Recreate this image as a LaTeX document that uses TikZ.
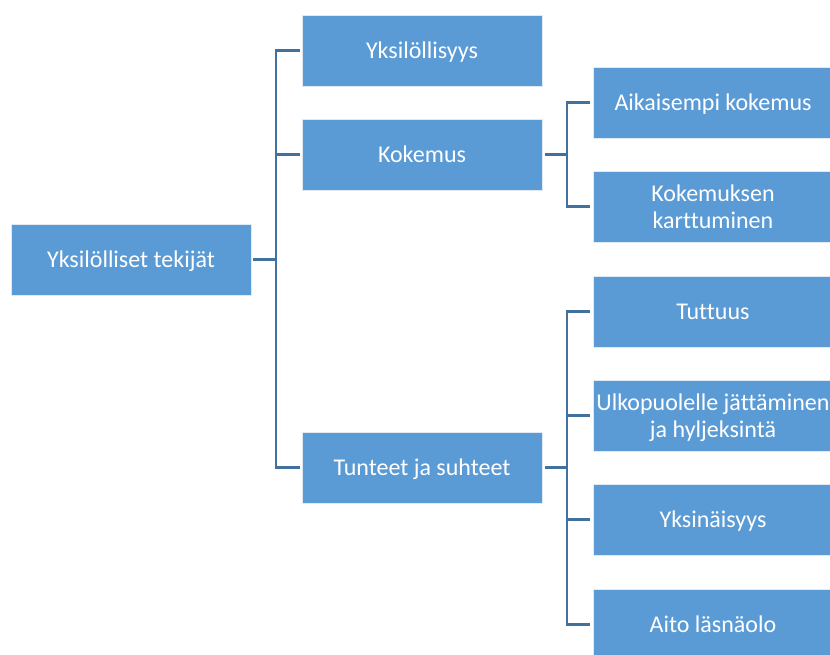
\documentclass[tikz,border=0pt]{standalone}
\usepackage{fontspec}
\setmainfont[Ligatures=NoCommon]{Carlito}
\definecolor{boxblue}{HTML}{5B9BD5}
\definecolor{linkblue}{HTML}{41719C}
\begin{document}
\begin{tikzpicture}[x=1pt,y=-1pt,
  item/.style={rectangle, fill=boxblue, draw=white!80!boxblue, line width=0.6pt,
    minimum width=240pt, minimum height=71pt, inner sep=0pt, text depth=0pt,
    text=white, align=center, font=\fontsize{24}{26.7}\selectfont},
  conn/.style={draw=linkblue, line width=2.2pt}]
\useasboundingbox (0,0) rectangle (830,655);
\clip (0,0) rectangle (830,655);

% root
\node[item] (root) at (131,259.5) {Yksilölliset tekijät};

% first level
\node[item] (yks) at (422,50.5) {Yksilöllisyys};
\node[item] (kok) at (422,154.5) {Kokemus};
\node[item] (tun) at (422,467.5) {Tunteet ja suhteet};

% second level
\node[item] (aik) at (713,102.5) {Aikaisempi kokemus};
\node[item] (kar) at (713,206.5) {Kokemuksen\\karttuminen};
\node[item] (tut) at (713,311.5) {Tuttuus};
\node[item] (ulk) at (713,415.5) {Ulkopuolelle jättäminen\\ja hyljeksintä};
\node[item] (yin) at (713,519.5) {Yksinäisyys};
\node[item] (ait) at (713,624.5) {Aito läsnäolo};

% elbow connectors
\foreach \c in {yks,kok,tun}
  \draw[conn] ([xshift=2pt]root.east) -- ++(23,0) |- ([xshift=-2pt]\c.west);
\foreach \c in {aik,kar}
  \draw[conn] ([xshift=3pt]kok.east) -- ++(22,0) |- ([xshift=-3pt]\c.west);
\foreach \c in {tut,ulk,yin,ait}
  \draw[conn] ([xshift=3pt]tun.east) -- ++(22,0) |- ([xshift=-3pt]\c.west);
\end{tikzpicture}
\end{document}
